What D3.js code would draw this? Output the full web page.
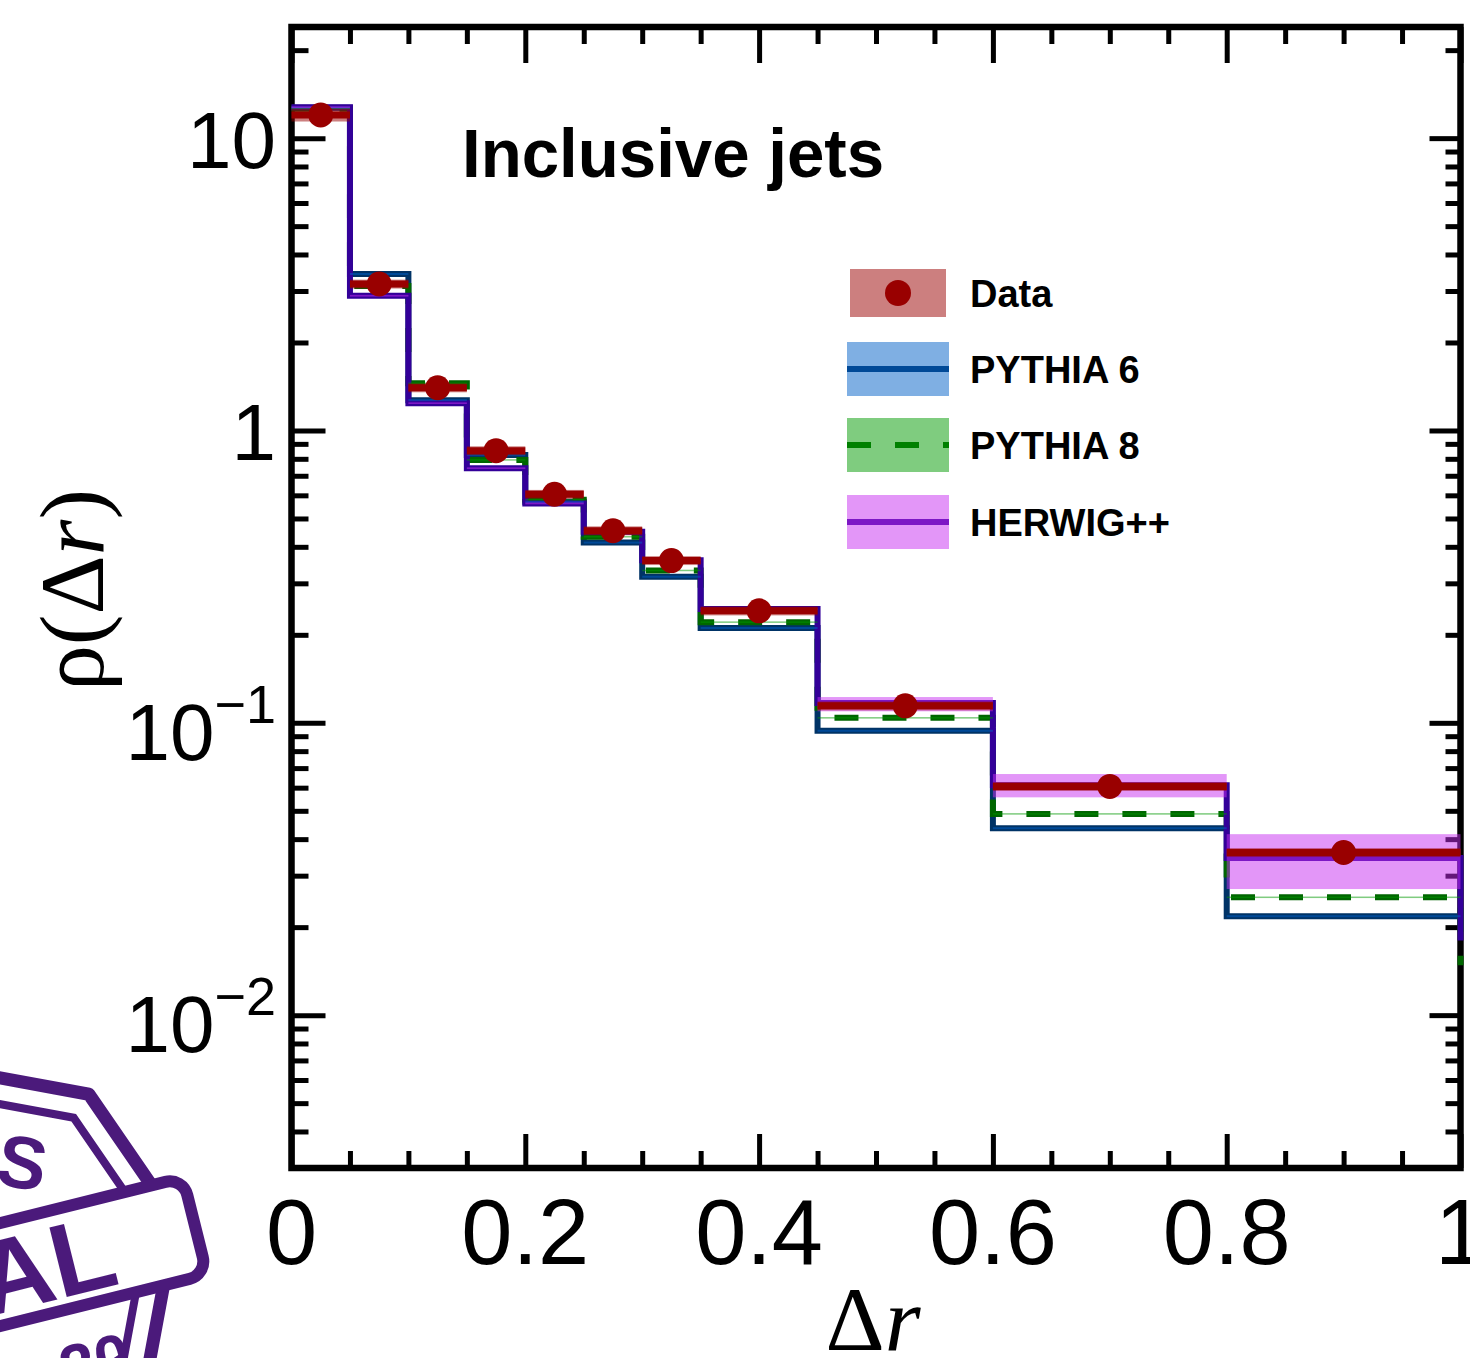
<!DOCTYPE html>
<html>
<head>
<meta charset="utf-8">
<script src="https://cdn.jsdelivr.net/npm/d3@7"></script>
<style>
  html, body { margin: 0; padding: 0; background: #fff; }
  svg { display: block; }
</style>
</head>
<body>
<div id="chart"></div>
<script>
// ---------------- DATA ----------------
const binEdges = [0, 0.05, 0.1, 0.15, 0.2, 0.25, 0.3, 0.35, 0.45, 0.6, 0.8, 1.0];

const dataVals   = [12.0, 3.17, 1.40, 0.853, 0.605, 0.454, 0.359, 0.2415, 0.1143, 0.0606, 0.036];
const dataRelErr = [0.05, 0.035, 0.035, 0.035, 0.035, 0.035, 0.035, 0.035, 0.035, 0.035, 0.035];

const p6Vals   = [12.7, 3.43, 1.27, 0.824, 0.57, 0.4135, 0.316, 0.211, 0.0939, 0.0436, 0.0218];
const p6RelErr = [0.008, 0.008, 0.008, 0.008, 0.008, 0.008, 0.008, 0.008, 0.008, 0.008, 0.008];

const p8Vals   = [12.6, 3.12, 1.45, 0.793, 0.58, 0.433, 0.332, 0.221, 0.104, 0.0488, 0.0253];
const p8RelErr = [0.006, 0.006, 0.006, 0.006, 0.006, 0.006, 0.006, 0.006, 0.006, 0.006, 0.006];

const hwVals   = [12.75, 2.89, 1.24, 0.743, 0.563, 0.45, 0.36, 0.245, 0.117, 0.0612, 0.0345];
const hwBandLo = [12.65, 2.87, 1.232, 0.738, 0.559, 0.447, 0.357, 0.243, 0.1095, 0.0556, 0.0270];
const hwBandHi = [12.85, 2.91, 1.248, 0.748, 0.567, 0.453, 0.363, 0.247, 0.1225, 0.0668, 0.0416];

// end-of-range drop of the histogram outlines at Δr = 1
const hwDropTo = 0.018;
const p8DropTo = 0.0148;

const xMajorTicks = [0, 0.2, 0.4, 0.6, 0.8, 1.0];
const xTickLabels = ["0", "0.2", "0.4", "0.6", "0.8", "1"];
const yMajorTicks = [10, 1, 0.1, 0.01];
const yTickBase   = ["10", "1", "10", "10"];
const yTickExp    = ["", "", "\u22121", "\u22122"];

const legendLabels = ["Data", "PYTHIA 6", "PYTHIA 8", "HERWIG++"];
const titleText = "Inclusive jets";

// ---------------- SETUP ----------------
const W = 1470, H = 1358;
const X0 = 291.5, X1 = 1460.5, Y0 = 27, Y1 = 1168;

const svg = d3.select("#chart").append("svg")
  .attr("width", W).attr("height", H)
  .attr("viewBox", `0 0 ${W} ${H}`);

const x = d3.scaleLinear().domain([0, 1]).range([X0, X1]);
const y = d3.scaleLog().domain([0.003, 24]).range([Y1, Y0]);

const sansFont = "'Liberation Sans', Arial, Helvetica, sans-serif";
const serifFont = "'Liberation Serif', 'Times New Roman', Times, serif";

// ---------------- STAMP (decorative, bottom-left) ----------------
const stampColor = "#4b1a7b";
const stamp = svg.append("g").attr("class", "stamp");
function octagon(cx, cy, R, a0) {
  return d3.range(8).map(k => {
    const a = (a0 + 45 * k) * Math.PI / 180;
    return [cx + R * Math.cos(a), cy + R * Math.sin(a)];
  });
}
stamp.append("path")
  .attr("d", d3.line()(octagon(-20, 1262, 200, -57)) + "Z")
  .attr("fill", "none").attr("stroke", stampColor).attr("stroke-width", 13)
  .attr("stroke-linejoin", "round");
stamp.append("path")
  .attr("d", d3.line()(octagon(-20, 1262, 172, -57)) + "Z")
  .attr("fill", "none").attr("stroke", stampColor).attr("stroke-width", 8)
  .attr("stroke-dasharray", "150,12");
stamp.append("text")
  .attr("transform", "translate(42,1192) rotate(10)")
  .attr("text-anchor", "end")
  .attr("font-family", sansFont).attr("font-weight", "bold")
  .attr("font-size", 74).attr("fill", stampColor)
  .text("CMS");
stamp.append("text")
  .attr("transform", "translate(66,1392) rotate(-14)")
  .attr("text-anchor", "start")
  .attr("font-family", sansFont).attr("font-weight", "bold")
  .attr("font-size", 64).attr("fill", stampColor)
  .text("20");
const band = stamp.append("g").attr("transform", "translate(195,1226) rotate(-14)");
band.append("rect")
  .attr("x", -460).attr("y", -50).attr("width", 460).attr("height", 100)
  .attr("rx", 18).attr("ry", 18)
  .attr("fill", "#fff").attr("stroke", stampColor).attr("stroke-width", 12);
band.append("text")
  .attr("x", -85).attr("y", 38)
  .attr("text-anchor", "end")
  .attr("font-family", sansFont).attr("font-weight", "bold")
  .attr("font-size", 104).attr("fill", stampColor)
  .text("FINAL");

// ---------------- AXES / FRAME ----------------
const tickStroke = 5;
function styleAxis(g) {
  g.select(".domain").remove();
  g.selectAll(".tick line").attr("stroke", "#000").attr("stroke-width", tickStroke);
  g.selectAll(".tick text").remove();
}
const xMinorTicks = d3.range(0, 21).map(i => i * 0.05)
  .filter(v => !xMajorTicks.some(m => Math.abs(m - v) < 1e-9) && v > 0 && v < 1);
const yMinorTicks = [];
[0.001, 0.01, 0.1, 1, 10].forEach(dec => {
  for (let m = 2; m <= 9; m++) {
    const v = m * dec;
    if (v > 0.0031 && v < 24) yMinorTicks.push(v);
  }
});

// bottom
svg.append("g").attr("transform", `translate(0,${Y1})`)
  .call(d3.axisTop(x).tickValues(xMajorTicks).tickSize(34)).call(styleAxis);
svg.append("g").attr("transform", `translate(0,${Y1})`)
  .call(d3.axisTop(x).tickValues(xMinorTicks).tickSize(17)).call(styleAxis);
// top
svg.append("g").attr("transform", `translate(0,${Y0})`)
  .call(d3.axisBottom(x).tickValues(xMajorTicks).tickSize(36)).call(styleAxis);
svg.append("g").attr("transform", `translate(0,${Y0})`)
  .call(d3.axisBottom(x).tickValues(xMinorTicks).tickSize(17)).call(styleAxis);
// left
svg.append("g").attr("transform", `translate(${X0},0)`)
  .call(d3.axisRight(y).tickValues(yMajorTicks).tickSize(34)).call(styleAxis);
svg.append("g").attr("transform", `translate(${X0},0)`)
  .call(d3.axisRight(y).tickValues(yMinorTicks).tickSize(17)).call(styleAxis);
// right
svg.append("g").attr("transform", `translate(${X1},0)`)
  .call(d3.axisLeft(y).tickValues(yMajorTicks).tickSize(31)).call(styleAxis);
svg.append("g").attr("transform", `translate(${X1},0)`)
  .call(d3.axisLeft(y).tickValues(yMinorTicks).tickSize(15)).call(styleAxis);

// frame
svg.append("rect")
  .attr("x", X0).attr("y", Y0).attr("width", X1 - X0).attr("height", Y1 - Y0)
  .attr("fill", "none").attr("stroke", "#000").attr("stroke-width", 6.5);

// tick labels
svg.append("g").selectAll("text").data(xMajorTicks).join("text")
  .attr("x", d => x(d)).attr("y", 1264)
  .attr("text-anchor", "middle")
  .attr("font-family", sansFont).attr("font-size", 92).attr("fill", "#000")
  .text((d, i) => xTickLabels[i]);

const yl = svg.append("g").selectAll("text").data(yMajorTicks).join("text")
  .attr("x", 276)
  .attr("y", (d, i) => y(d) + (yTickExp[i] ? 37 : 30))
  .attr("text-anchor", "end")
  .attr("font-family", sansFont).attr("font-size", 80).attr("fill", "#000");
yl.each(function(d, i) {
  const t = d3.select(this);
  t.append("tspan").text(yTickBase[i]);
  if (yTickExp[i]) {
    t.append("tspan").attr("font-size", 54).attr("dy", -37).text(yTickExp[i]);
  }
});

// axis titles
const xt = svg.append("text")
  .attr("x", 873).attr("y", 1350)
  .attr("text-anchor", "middle")
  .attr("font-family", serifFont).attr("font-size", 92).attr("fill", "#000");
xt.append("tspan").text("\u0394");
xt.append("tspan").attr("font-style", "italic").text("r");

const yt = svg.append("text")
  .attr("transform", "translate(103,590) rotate(-90)")
  .attr("text-anchor", "middle")
  .attr("font-family", serifFont).attr("font-size", 92).attr("fill", "#000");
yt.append("tspan").text("\u03C1(\u0394");
yt.append("tspan").attr("font-style", "italic").text("r");
yt.append("tspan").text(")");

// ---------------- HISTOGRAMS ----------------
svg.append("defs").append("clipPath").attr("id", "plotClip")
  .append("rect").attr("x", X0 - 3).attr("y", Y0).attr("width", X1 - X0 + 7).attr("height", Y1 - Y0);

const plot = svg.append("g").attr("clip-path", "url(#plotClip)");
const stepLine = d3.line().x(d => x(d[0])).y(d => y(d[1])).curve(d3.curveStepAfter);

function stepPoints(vals, dropTo) {
  const pts = vals.map((v, i) => [binEdges[i], v]);
  pts.push([binEdges[binEdges.length - 1], vals[vals.length - 1]]);
  if (dropTo !== undefined) pts.push([binEdges[binEdges.length - 1], dropTo]);
  return pts;
}
const bins = dataVals.map((v, i) => ({ i, x0: binEdges[i], x1: binEdges[i + 1] }));

// lines (MC)
plot.append("path").attr("d", stepLine(stepPoints(p6Vals)))
  .attr("fill", "none").attr("stroke", "#003366").attr("stroke-width", 6);
plot.append("path").attr("d", stepLine(stepPoints(p8Vals, p8DropTo)))
  .attr("fill", "none").attr("stroke", "#006600").attr("stroke-width", 6)
  .attr("stroke-dasharray", "24,24");
plot.append("path").attr("d", stepLine(stepPoints(hwVals, hwDropTo)))
  .attr("fill", "none").attr("stroke", "#330099").attr("stroke-width", 6);

// bands (MC), semi-transparent on top of lines
function bandRects(cls, lo, hi, color) {
  plot.append("g").attr("class", cls).selectAll("rect").data(bins).join("rect")
    .attr("x", d => x(d.x0)).attr("width", d => x(d.x1) - x(d.x0))
    .attr("y", d => y(hi[d.i]))
    .attr("height", d => Math.max(1.5, y(lo[d.i]) - y(hi[d.i])))
    .attr("fill", color).attr("fill-opacity", 0.5);
}
bandRects("p6band", p6Vals.map((v, i) => v * (1 - p6RelErr[i])), p6Vals.map((v, i) => v * (1 + p6RelErr[i])), "#0060c8");
bandRects("p8band", p8Vals.map((v, i) => v * (1 - p8RelErr[i])), p8Vals.map((v, i) => v * (1 + p8RelErr[i])), "#009900");
bandRects("hwband", hwBandLo, hwBandHi, "#c82df1");

// data
plot.append("g").selectAll("line").data(bins).join("line")
  .attr("x1", d => x(d.x0)).attr("x2", d => x(d.x1))
  .attr("y1", d => y(dataVals[d.i])).attr("y2", d => y(dataVals[d.i]))
  .attr("stroke", "#990000").attr("stroke-width", 7);
bandRects("databand", dataVals.map((v, i) => v * (1 - dataRelErr[i])), dataVals.map((v, i) => v * (1 + dataRelErr[i])), "#990000");
plot.append("g").selectAll("circle").data(bins).join("circle")
  .attr("cx", d => x((d.x0 + d.x1) / 2)).attr("cy", d => y(dataVals[d.i]))
  .attr("r", 12.5).attr("fill", "#990000");

// ---------------- TITLE ----------------
svg.append("text")
  .attr("x", 462).attr("y", 177)
  .attr("font-family", sansFont).attr("font-weight", "bold")
  .attr("font-size", 68).attr("fill", "#000")
  .attr("textLength", 422).attr("lengthAdjust", "spacingAndGlyphs")
  .text(titleText);

// ---------------- LEGEND ----------------
const legendRowsY = [293, 369, 445, 522];
const legendFill = ["#990000", "#0060c8", "#009900", "#c82df1"];
const legendLine = [null, "#003366", "#006600", "#330099"];
const leg = svg.append("g");
legendLabels.forEach((lab, i) => {
  const cy = legendRowsY[i];
  const isData = i === 0;
  const bw = isData ? 96 : 102, bh = isData ? 48 : 54;
  const bx = isData ? 850 : 847;
  if (!isData) {
    leg.append("line").attr("x1", 847).attr("x2", 949).attr("y1", cy).attr("y2", cy)
      .attr("stroke", legendLine[i]).attr("stroke-width", 6)
      .attr("stroke-dasharray", i === 2 ? "24,24" : null);
  }
  leg.append("rect").attr("x", bx).attr("y", cy - bh / 2).attr("width", bw).attr("height", bh)
    .attr("fill", legendFill[i]).attr("fill-opacity", 0.5);
  if (isData) {
    leg.append("circle").attr("cx", 898).attr("cy", cy).attr("r", 13).attr("fill", "#990000");
  }
  leg.append("text").attr("x", 970).attr("y", cy + 14)
    .attr("font-family", sansFont).attr("font-weight", "bold")
    .attr("font-size", 38).attr("fill", "#000")
    .text(lab);
});
</script>
</body>
</html>
